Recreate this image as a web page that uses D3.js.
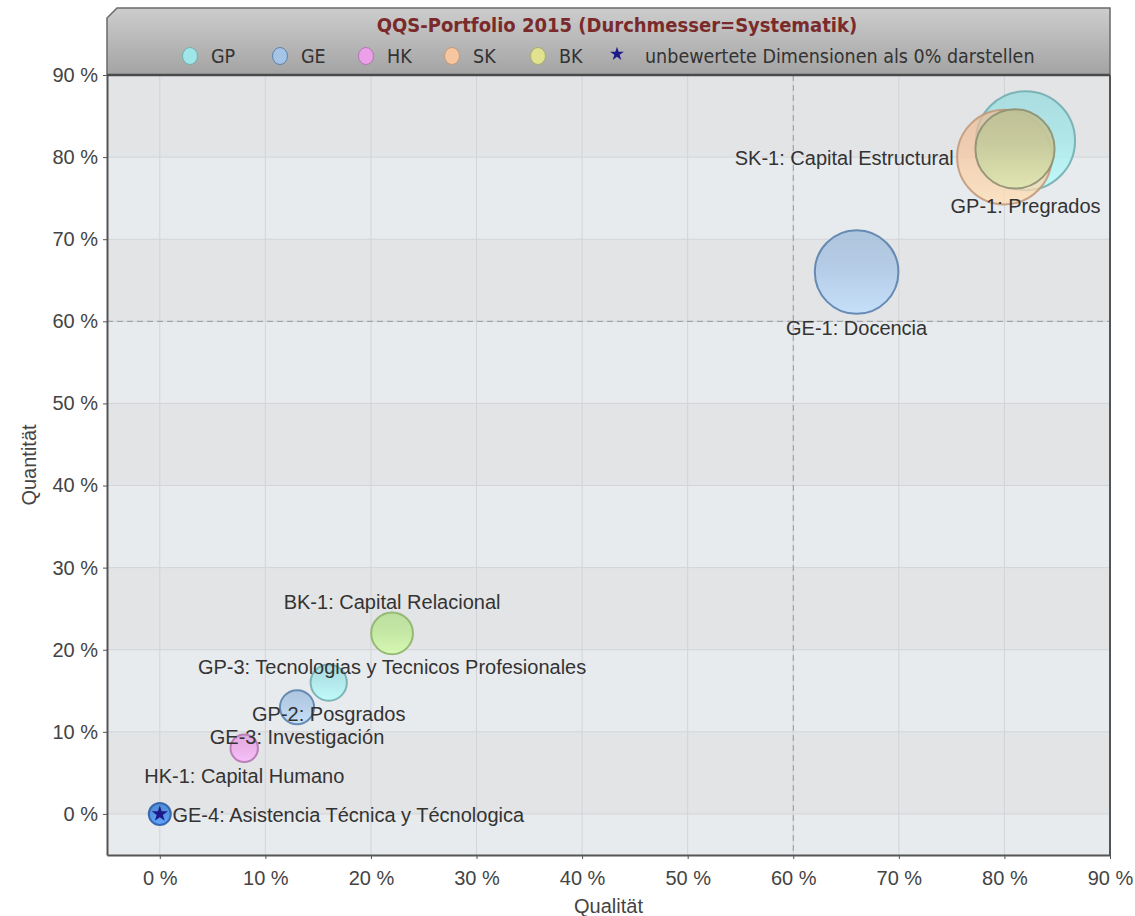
<!DOCTYPE html>
<html>
<head>
<meta charset="utf-8">
<script src="https://cdn.jsdelivr.net/npm/d3@7"></script>
<style>
  body { margin: 0; background: #fff; }
  text { font-family: "Liberation Sans", Arial, sans-serif; }
  .lbl { fill: #333; font-size: 20px; }
  .legend { font-family: "DejaVu Sans Condensed", "DejaVu Sans", sans-serif; font-size: 19.5px; fill: #333; }
  .title { font-family: "DejaVu Sans Condensed", "DejaVu Sans", sans-serif; font-size: 20px; font-weight: bold; fill: #7a2a2a; }
</style>
</head>
<body>
<div id="container"></div>
<script>
// Daten (in Prozent)
var categories = ["GP", "GE", "HK", "SK", "BK"];
var catColors  = ["#9fe6e8", "#a6c4e6", "#eda0ea", "#f5c6a0", "#e0e28f"];
var catStroke  = ["#72aeb0", "#5a82ae", "#b577b3", "#c29a7a", "#a9ab6a"];

// Blasen: Kategorie, Qualität, Quantität, Systematik (Durchmesser)
var bubbleCat  = ["GP", "SK", "BK", "GE", "BK", "GP", "GE", "HK", "GE"];
var bubbleQual = [82, 80, 81, 66, 22, 16, 13, 8, 0];
var bubbleQuan = [82, 80, 81, 66, 22, 16, 13, 8, 0];
var bubbleSys  = [90, 86, 72, 76, 38, 33, 31, 25, 20];
var bubbleFill = [null, null, "#c6cb9c", null, "#b9e88f", null, null, null, "#4f8fe0"];
var bubbleLine = [null, null, "#8f8f72", null, "#8fb56c", null, null, null, "#2f5fa8"];
var bubbleAlpha = [0.75, 0.75, 0.92, 0.75, 0.75, 0.75, 0.75, 0.75, 0.95];

// Beschriftungen (Position in Datenkoordinaten)
var labelText = ["GP-1: Pregrados", "SK-1: Capital Estructural", "GE-1: Docencia",
  "BK-1: Capital Relacional", "GP-3: Tecnologias y Tecnicos Profesionales",
  "GP-2: Posgrados", "GE-3: Investigación", "HK-1: Capital  Humano",
  "GE-4: Asistencia Técnica y Técnologica"];
var labelX = [82, 75.2, 66, 22, 22, 16, 13, 8, 1.2];
var labelY = [73.2, 79.0, 58.3, 25.0, 17.0, 11.3, 8.5, 3.8, -1.0];
var labelAnchor = ["middle", "end", "middle", "middle", "middle", "middle", "middle", "middle", "start"];

// Nicht bewertete Dimensionen (Stern)
var starQual = [0];
var starQuan = [0];

var xTicks = [0, 10, 20, 30, 40, 50, 60, 70, 80, 90];
var yTicks = [0, 10, 20, 30, 40, 50, 60, 70, 80, 90];
var bands  = [0, 20, 40, 60, 80];

var W = 1135, H = 916;
var margin = { top: 75, right: 25, bottom: 61, left: 107 };
var width = W - margin.left - margin.right;
var height = H - margin.top - margin.bottom;

var svg = d3.select("#container").append("svg")
  .attr("width", W).attr("height", H);

var defs = svg.append("defs");
var hg = defs.append("linearGradient").attr("id", "hdr").attr("x1", 0).attr("y1", 0).attr("x2", 0).attr("y2", 1);
hg.append("stop").attr("offset", "0%").attr("stop-color", "#cdcdcd");
hg.append("stop").attr("offset", "100%").attr("stop-color", "#a3a3a3");

function gradFor(id, c) {
  var g = defs.append("linearGradient").attr("id", id).attr("x1", 0).attr("y1", 0).attr("x2", 0).attr("y2", 1);
  g.append("stop").attr("offset", "0%").attr("stop-color", d3.color(c).darker(0.15));
  g.append("stop").attr("offset", "45%").attr("stop-color", c);
  g.append("stop").attr("offset", "100%").attr("stop-color", d3.color(c).brighter(0.35));
  return "url(#" + id + ")";
}

var x = d3.scaleLinear().domain([-5, 90]).range([0, width]);
var y = d3.scaleLinear().domain([-5, 90]).range([height, 0]);
var d = d3.scaleLinear().domain([0, 100]).range([0, 110]); // Durchmesser

var g = svg.append("g").attr("transform", "translate(" + margin.left + "," + margin.top + ")");

// Hintergrund + Bänder
g.append("rect").attr("width", width).attr("height", height).attr("fill", "#e8ebee");
g.selectAll("rect.band").data(bands).enter().append("rect")
  .attr("class", "band")
  .attr("x", 0).attr("width", width)
  .attr("y", function(b) { return y(b + 10); })
  .attr("height", function(b) { return y(b) - y(b + 10); })
  .attr("fill", "#e3e4e6");

// Gitter
g.selectAll("line.gx").data(xTicks).enter().append("line")
  .attr("x1", function(t) { return x(t); }).attr("x2", function(t) { return x(t); })
  .attr("y1", 0).attr("y2", height).attr("stroke", "#d2d4d7");
g.selectAll("line.gy").data(yTicks).enter().append("line")
  .attr("y1", function(t) { return y(t); }).attr("y2", function(t) { return y(t); })
  .attr("x1", 0).attr("x2", width).attr("stroke", "#d2d4d7");

// Schwellenlinien 60 %
g.append("line").attr("x1", x(60)).attr("x2", x(60)).attr("y1", 0).attr("y2", height)
  .attr("stroke", "#999").attr("stroke-dasharray", "6,4");
g.append("line").attr("y1", y(60)).attr("y2", y(60)).attr("x1", 0).attr("x2", width)
  .attr("stroke", "#999").attr("stroke-dasharray", "6,4");

// Blasen
var bubbles = bubbleCat.map(function(c, i) {
  var ci = categories.indexOf(c);
  return { cat: c, qx: bubbleQual[i], qy: bubbleQuan[i], s: bubbleSys[i],
           fill: bubbleFill[i] || catColors[ci],
           stroke: bubbleLine[i] || catStroke[ci], a: bubbleAlpha[i] };
});
g.selectAll("circle.bub").data(bubbles).enter().append("circle")
  .attr("class", "bub")
  .attr("cx", function(b) { return x(b.qx); })
  .attr("cy", function(b) { return y(b.qy); })
  .attr("r", function(b) { return d(b.s) / 2; })
  .attr("fill", function(b, i) { return gradFor("bg" + i, b.fill); })
  .attr("fill-opacity", function(b) { return b.a; })
  .attr("stroke", function(b) { return b.stroke; })
  .attr("stroke-opacity", 0.9)
  .attr("stroke-width", 2);

// Sterne
g.selectAll("path.star").data(starQual).enter().append("path")
  .attr("d", d3.symbol().type(d3.symbolStar).size(80))
  .attr("transform", function(v, i) { return "translate(" + x(v) + "," + y(starQuan[i]) + ")"; })
  .attr("fill", "#1c1a8a");

// Beschriftungen
g.selectAll("text.lbl").data(labelText).enter().append("text")
  .attr("class", "lbl")
  .attr("x", function(t, i) { return x(labelX[i]); })
  .attr("y", function(t, i) { return y(labelY[i]); })
  .attr("text-anchor", function(t, i) { return labelAnchor[i]; })
  .text(function(t) { return t; });

// Achsen
var xAxis = d3.axisBottom(x).tickValues(xTicks).tickFormat(function(t) { return t + " %"; })
  .tickSizeInner(4).tickSizeOuter(0).tickPadding(12);
var yAxis = d3.axisLeft(y).tickValues(yTicks).tickFormat(function(t) { return t + " %"; })
  .tickSizeInner(4).tickSizeOuter(0).tickPadding(5);
var gx = g.append("g").attr("transform", "translate(0," + height + ")").call(xAxis);
var gy = g.append("g").call(yAxis);
[gx, gy].forEach(function(a) {
  a.select(".domain").attr("stroke", "#555").attr("stroke-width", 2);
  a.selectAll(".tick line").attr("stroke", "#555");
  a.selectAll(".tick text").attr("fill", "#444").style("font-size", "20px")
    .style("font-family", "'Liberation Sans', Arial, sans-serif");
});
g.append("line").attr("x1", width).attr("x2", width).attr("y1", 0).attr("y2", height)
  .attr("stroke", "#555").attr("stroke-width", 2);

g.append("text").attr("x", width / 2).attr("y", height + 58).attr("text-anchor", "middle")
  .attr("fill", "#444").style("font-size", "20px").text("Qualität");
g.append("text").attr("transform", "rotate(-90)").attr("x", -height / 2).attr("y", -71)
  .attr("text-anchor", "middle").attr("fill", "#444").style("font-size", "20px").text("Quantität");

// Kopfbereich mit Titel und Legende
var hx0 = margin.left, hx1 = margin.left + width, hy0 = 8, hy1 = margin.top;
svg.append("path")
  .attr("d", "M" + hx0 + "," + hy1 + "V" + (hy0 + 10) + "L" + (hx0 + 10) + "," + hy0 + "H" + hx1 + "V" + hy1 + "Z")
  .attr("fill", "url(#hdr)").attr("stroke", "#6a6a6a").attr("stroke-width", 1.5);
svg.append("line").attr("x1", hx0).attr("x2", hx1).attr("y1", hy1).attr("y2", hy1)
  .attr("stroke", "#4a4a4a").attr("stroke-width", 2.5);

svg.append("text").attr("class", "title").attr("x", 617).attr("y", 32)
  .attr("text-anchor", "middle").text("QQS-Portfolio 2015 (Durchmesser=Systematik)");

var legX = [190, 280, 366, 452, 538];
var leg = svg.append("g");
leg.selectAll("ellipse").data(categories).enter().append("ellipse")
  .attr("cx", function(c, i) { return legX[i]; }).attr("cy", 56)
  .attr("rx", 7.5).attr("ry", 8.5)
  .attr("fill", function(c, i) { return catColors[i]; })
  .attr("stroke", function(c, i) { return catStroke[i]; }).attr("stroke-width", 1);
leg.selectAll("text").data(categories).enter().append("text")
  .attr("class", "legend")
  .attr("x", function(c, i) { return legX[i] + 21; }).attr("y", 63)
  .text(function(c) { return c; });
leg.append("path").attr("d", d3.symbol().type(d3.symbolStar).size(60))
  .attr("transform", "translate(617,54)").attr("fill", "#1c1a8a");
leg.append("text").attr("class", "legend").attr("x", 645).attr("y", 63)
  .text("unbewertete Dimensionen als 0% darstellen");
</script>
</body>
</html>
